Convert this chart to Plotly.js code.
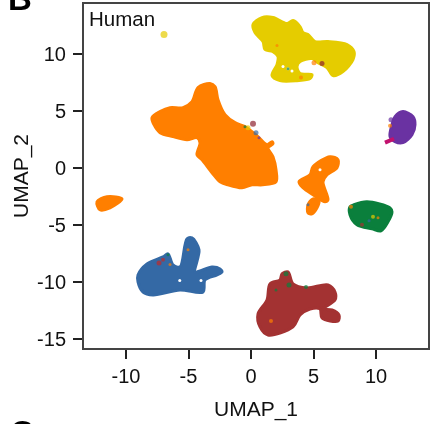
<!DOCTYPE html>
<html><head><meta charset="utf-8">
<script src="https://cdn.plot.ly/plotly-3.0.1.min.js"></script>
<style>html,body{margin:0;padding:0;background:#fff}#c{width:431px;height:424px;filter:blur(0.45px)}</style></head>
<body><div id="c"></div>
<script>
// Cluster outlines, in UMAP units
const mainOrangeX=[-7.92,-7.28,-6.48,-5.44,-4.72,-4.24,-3.28,-2.88,-2.64,-2.08,-1.28,-0.48,0.08,0.56,1.28,1.68,1.76,1.36,1.76,2.0,2.0,0.92,0.08,-0.72,-1.84,-2.48,-3.12,-3.92,-4.32,-4.08,-4.32,-5.12,-6.24,-7.28,-7.76];
const mainOrangeY=[4.40,4.93,5.28,5.28,5.80,7.04,7.39,7.12,5.98,4.66,3.96,3.61,3.17,2.73,2.02,2.29,2.11,1.76,0.97,-0.18,-1.23,-1.50,-1.50,-1.76,-1.50,-1.23,-0.44,0.70,1.14,2.20,2.64,2.46,2.73,3.08,3.78];
const yellowX=[0.16,0.88,1.76,2.88,3.36,3.92,4.16,4.56,5.12,6.16,7.68,8.24,8.16,7.36,6.56,6.08,5.36,4.88,3.92,3.68,3.92,4.88,4.72,3.68,2.32,1.68,2.08,2.16,1.76,1.12,0.96,0.32];
const yellowY=[12.58,13.19,13.19,12.66,12.93,12.40,11.87,11.70,11.08,11.08,10.82,10.20,9.50,8.44,8.09,8.80,9.23,9.59,9.32,8.88,8.27,8.18,7.83,7.65,7.65,8.09,9.06,9.76,10.20,10.38,11.08,11.87];
const purpleX=[11.52,12.16,12.96,13.12,12.88,12.16,11.52,11.12,11.28];
const purpleY=[4.49,4.93,4.49,3.78,2.90,2.20,2.29,2.73,3.78];
const magentaX=[10.72,11.44];
const magentaY=[2.20,2.55];
const midOrangeX=[3.84,4.72,4.96,6.32,6.96,6.88,6.08,5.76,6.16,5.92,4.96,4.16];
const midOrangeY=[-1.23,-0.62,0.09,0.97,0.70,0,-0.62,-1.23,-2.81,-2.99,-2.37,-1.76];
const lowOrangeX=[4.56,4.96,5.44,5.28,4.88,4.56];
const lowOrangeY=[-3.25,-2.73,-2.90,-3.52,-4.05,-3.96];
const leftOrangeX=[-12.32,-11.52,-10.32,-11.28,-12.08];
const leftOrangeY=[-2.99,-2.55,-2.73,-3.52,-3.69];
const greenX=[7.92,8.24,9.28,11.12,11.28,10.96,10.4,9.68,8.48,7.92];
const greenY=[-3.43,-3.25,-2.99,-3.52,-3.87,-4.75,-5.54,-5.36,-5.01,-4.13];
const blueX=[-9.04,-8.32,-7.04,-6.64,-6.24,-5.68,-5.12,-4.72,-4.16,-4.48,-4.08,-3.12,-2.48,-2.32,-2.72,-3.68,-3.84,-5.68,-7.84,-8.64,-9.04];
const blueY=[-9.41,-8.44,-7.83,-7.56,-8.53,-8.71,-6.24,-6.16,-7.21,-9.15,-9.06,-8.71,-8.88,-9.15,-9.41,-9.85,-10.91,-10.73,-11.17,-10.91,-10.03];
const redX=[0.56,1.28,1.52,2.32,2.48,2.96,3.36,4.48,6.16,6.72,6.72,5.76,6.48,7.04,6.96,5.68,5.52,4.72,3.92,3.36,1.36,0.72];
const redY=[-12.84,-11.61,-10.20,-9.85,-9.32,-9.15,-10.20,-10.55,-10.29,-10.91,-11.61,-12.40,-12.49,-12.93,-13.46,-13.19,-12.40,-12.40,-12.93,-13.98,-14.69,-13.98];
// Small gaps in the clusters
const gapX=[2.96,2.56,3.28,-5.7,-4.0,5.52];
const gapY=[8.70,8.9,8.5,-9.9,-9.9,-0.18];
// Stray cells
const strayX=[0.16,0.4,-0.24,-0.48,0.64,5.68,5.04,4.0,2.08,2.96,11.2,11.12,4.56,8.0,9.76,8.88,10.16,9.44,-7.36,-7.04,-6.64,-5.04,2.8,3.04,4.4,2,1.6,-6.96,-6.48];
const strayY=[3.87,3.08,3.52,3.61,2.64,9.15,9.23,7.92,10.73,8.70,4.22,3.69,-3.25,-3.43,-4.31,-5.01,-4.4,-4.66,-8.36,-8.09,-7.65,-7.21,-9.32,-10.29,-10.47,-10.73,-13.46,11.7,-8.5];
const strayC=["#8e2430","#3469a5","#e5cc00","#0a7f3c","#6a32a2","#8e2430","#ff7f00","#ff7f00","#ff7f00","#0a7f3c","#6a32a2","#ff7f00","#3469a5","#ff7f00","#e5cc00","#a33232","#ff7f00","#3469a5","#c02a2a","#c02a2a","#0a7f3c","#ff7f00","#0a7f3c","#0a7f3c","#0a7f3c","#0a7f3c","#ff7f00","#e5cc00","#ff7f00"];
const straySize=[6,5,5,3,3,5,5,4,3,3,5,4,3,4,4,4,3,3,5,4,3,3,5,5,4,3,4,7,3];

function blob(x,y,color){
  return {type:"scatter",mode:"lines",x:x.concat(x[0]),y:y.concat(y[0]),fill:"toself",fillcolor:color,
    line:{color:color,width:3,shape:"spline",smoothing:0.9},hoverinfo:"skip"};
}
const traces=[
  blob(mainOrangeX,mainOrangeY,"#ff7f00"),
  blob(midOrangeX,midOrangeY,"#ff7f00"),
  blob(lowOrangeX,lowOrangeY,"#ff7f00"),
  blob(leftOrangeX,leftOrangeY,"#ff7f00"),
  blob(yellowX,yellowY,"#e5cc00"),
  blob(purpleX,purpleY,"#6a32a2"),
  {type:"scatter",mode:"lines",x:magentaX,y:magentaY,line:{color:"#c2116e",width:4},hoverinfo:"skip"},
  blob(greenX,greenY,"#0a7f3c"),
  blob(blueX,blueY,"#3469a5"),
  blob(redX,redY,"#a33232"),
  {type:"scatter",mode:"markers",x:gapX,y:gapY,marker:{color:"#fff",size:3,line:{width:0}},hoverinfo:"skip"},
  {type:"scatter",mode:"markers",x:strayX,y:strayY,marker:{color:strayC,size:straySize,line:{width:0}},hoverinfo:"skip"}
];
const tickFont={family:"Liberation Sans, Arial, sans-serif",size:20,color:"#111"};
const titleFont={family:"Liberation Sans, Arial, sans-serif",size:21,color:"#111"};
const axisBase={showgrid:false,zeroline:false,showline:true,linecolor:"#444",linewidth:2,mirror:true,
  ticks:"outside",ticklen:9,tickwidth:2,tickcolor:"#222",tickfont:tickFont,fixedrange:true};
const layout={
  width:431,height:424,showlegend:false,paper_bgcolor:"#fff",plot_bgcolor:"#fff",
  margin:{l:84,r:3,t:4,b:76},
  font:tickFont,
  xaxis:Object.assign({},axisBase,{range:[-13.36,14.16],tickvals:[-10,-5,0,5,10],ticktext:["-10","-5","0","5","10"],
    title:{text:"UMAP_1",font:titleFont,standoff:15}}),
  yaxis:Object.assign({},axisBase,{range:[-15.83,14.38],tickvals:[-15,-10,-5,0,5,10],ticktext:["-15","-10","-5","0","5","10"],
    ticklabelstandoff:3,title:{text:"UMAP_2",font:titleFont,standoff:3}}),
  annotations:[
    {text:"Human",xref:"paper",yref:"paper",x:0.012,y:0.993,xanchor:"left",yanchor:"top",showarrow:false,
      font:{family:"Liberation Sans, Arial, sans-serif",size:20.5,color:"#111"},borderpad:0},
    {text:"<b>B</b>",xref:"paper",yref:"paper",x:-0.226,y:1.015,xanchor:"left",yanchor:"middle",showarrow:false,
      font:{family:"Liberation Sans, Arial, sans-serif",size:33,color:"#000"}},
    {text:"<b>C</b>",xref:"paper",yref:"paper",x:-0.222,y:-0.245,xanchor:"left",yanchor:"middle",showarrow:false,
      font:{family:"Liberation Sans, Arial, sans-serif",size:33,color:"#000"}}
  ]
};
Plotly.newPlot("c",traces,layout,{displayModeBar:false,staticPlot:true});
</script></body></html>
